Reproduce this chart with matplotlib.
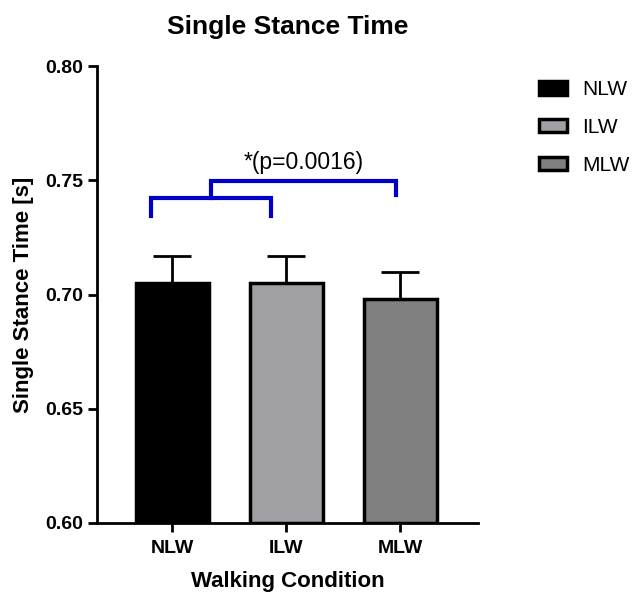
import numpy as np
import matplotlib.pyplot as plt
from matplotlib.patches import Patch

conditions = ['NLW', 'ILW', 'MLW']
means = [0.705, 0.705, 0.698]
sems = [0.012, 0.012, 0.012]
colors = ['#000000', '#a0a0a4', '#808080']

plt.rcParams['font.family'] = ['Liberation Sans', 'DejaVu Sans']

fig = plt.figure(figsize=(6.38, 5.97), dpi=100)
ax = fig.add_axes([0.152, 0.124, 0.597, 0.765])

x = np.arange(len(conditions))
ax.bar(x, [m - 0.6 for m in means], bottom=0.6, width=0.64, color=colors,
       edgecolor='black', linewidth=2.5, zorder=2)
ax.errorbar(x, means, yerr=[np.zeros(3), sems], fmt='none', ecolor='black',
            elinewidth=2, capsize=14, capthick=2, zorder=1)

# significance brackets
blue = '#0000c8'
ax.plot([-0.19, -0.19, 0.87, 0.87], [0.7345, 0.7425, 0.7425, 0.7345],
        color=blue, lw=3, solid_joinstyle='miter', clip_on=False)
ax.plot([0.34, 0.34, 1.96, 1.96], [0.7425, 0.7497, 0.7497, 0.7435],
        color=blue, lw=3, solid_joinstyle='miter', clip_on=False)
ax.text(1.15, 0.7530, '*(p=0.0016)', ha='center', va='bottom', fontsize=16.5)

ax.set_xlim(-0.66, 2.68)
ax.set_ylim(0.60, 0.80)
ax.set_yticks([0.60, 0.65, 0.70, 0.75, 0.80])
ax.set_yticklabels(['0.60', '0.65', '0.70', '0.75', '0.80'])
ax.set_xticks(x)
ax.set_xticklabels(conditions)
for lab in ax.get_xticklabels() + ax.get_yticklabels():
    lab.set_fontweight('bold')
    lab.set_fontsize(14)
ax.tick_params(direction='out', width=2, length=6.5)
ax.tick_params(axis='x', pad=6)
for s in ['top', 'right']:
    ax.spines[s].set_visible(False)
for s in ['left', 'bottom']:
    ax.spines[s].set_linewidth(2)

ax.set_xlabel('Walking Condition', fontsize=16, fontweight='bold', labelpad=10)
ax.set_ylabel('Single Stance Time [s]', fontsize=16, fontweight='bold', labelpad=8)
ax.set_title('Single Stance Time', fontsize=19, fontweight='bold', pad=23)

handles = [Patch(facecolor=c, edgecolor='black', linewidth=2.5) for c in colors]
fig.legend(handles, conditions, loc='upper left', bbox_to_anchor=(0.815, 0.897),
           frameon=False, fontsize=15, handlelength=1.35, handleheight=0.6,
           labelspacing=0.9, handletextpad=0.75)

fig.savefig('out.png', dpi=100)
